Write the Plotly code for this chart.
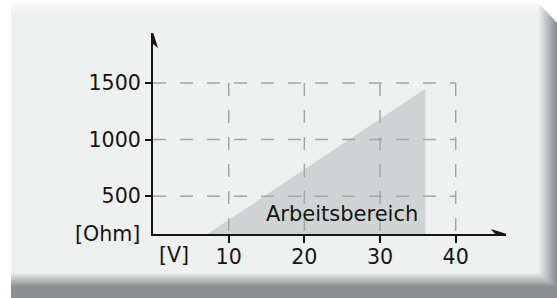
import plotly.graph_objects as go

# ---- data ----
x_ticks = [10, 20, 30, 40]
y_ticks = [500, 1000, 1500]
x_unit = "[V]"
y_unit = "[Ohm]"
area_v = [7.2, 36.0, 36.0]
area_ohm = [167, 1450, 167]
area_label = "Arbeitsbereich"

# ---- layout geometry ----
W, H = 557, 298
ML, MR, MT, MB = 153, 51, 33, 64
PW, PH = W - ML - MR, H - MT - MB
X_RANGE = [0, 46.65]
Y_RANGE = [167, 1941]

FONT = "DejaVu Sans"
FS = 20.6
INK = "#151515"
GRID = "#a3a6a8"
PANEL = (0xEF, 0xF0, 0xF0)
DARK = (0x8A, 0x8F, 0x92)
HILITE = (0xF8, 0xF8, 0xF8)


def px(x):
    return (x - ML) / PW


def py(y):
    return (H - MB - y) / PH


def lerp(a, b, t):
    return "rgb(%d,%d,%d)" % tuple(round(a[i] + (b[i] - a[i]) * t) for i in range(3))


def rect(x0, y0, x1, y1, color):
    return dict(type="rect", xref="paper", yref="paper",
                x0=px(x0), x1=px(x1), y0=py(y1), y1=py(y0),
                fillcolor=color, line=dict(width=0), layer="below")


shapes = []
N = 14
for k in range(N + 1):
    t = k / N
    shapes.append(rect(11, 22 - 19 * t, 557 - 18 * t, (298 if k == 0 else 287 - 14 * t),
                       lerp(DARK, PANEL, t)))
M = 6
for j in range(1, M + 1):
    t = j / M
    shapes.append(rect(11, 3, 539, 3 + 12 * (1 - t) + 1, lerp(PANEL, HILITE, t)))

# arrowheads (pixel-sized, anchored at axis ends)
shapes.append(dict(type="path", xref="x", yref="y", xsizemode="pixel", ysizemode="pixel",
                   xanchor=0, yanchor=Y_RANGE[1],
                   path="M0,1 L5,-15 L0,-11 L-5,-15 Z",
                   fillcolor=INK, line=dict(width=0), layer="above"))
shapes.append(dict(type="path", xref="x", yref="y", xsizemode="pixel", ysizemode="pixel",
                   xanchor=X_RANGE[1], yanchor=Y_RANGE[0],
                   path="M1,0 L-15,5 L-11,0 L-15,-5 Z",
                   fillcolor=INK, line=dict(width=0), layer="above"))

fig = go.Figure()

fig.add_trace(go.Scatter(x=area_v, y=area_ohm, fill="toself", mode="lines",
                         fillcolor="#d0d3d4", line=dict(width=0),
                         hoverinfo="skip", showlegend=False))

# dashed grid, limited to the tick extent
for xv in x_ticks:
    fig.add_trace(go.Scatter(x=[xv, xv], y=[max(y_ticks), Y_RANGE[0]], mode="lines",
                             line=dict(color=GRID, width=1.5, dash="13px,14px"),
                             hoverinfo="skip", showlegend=False))
for yv in y_ticks:
    fig.add_trace(go.Scatter(x=[X_RANGE[0], max(x_ticks)], y=[yv, yv], mode="lines",
                             line=dict(color=GRID, width=1.5, dash="13px,14px"),
                             hoverinfo="skip", showlegend=False))

fig.update_layout(
    width=W, height=H,
    margin=dict(l=ML, r=MR, t=MT, b=MB, pad=0),
    paper_bgcolor="white",
    plot_bgcolor="rgba(0,0,0,0)",
    font=dict(family=FONT, size=FS, color=INK),
    shapes=shapes,
    showlegend=False,
    xaxis=dict(range=X_RANGE, tickvals=x_ticks, showgrid=False, zeroline=False,
               showline=True, linewidth=2, linecolor=INK,
               ticks="outside", ticklen=7, tickwidth=2, tickcolor=INK,
               ticklabelstandoff=-4,
               tickfont=dict(family=FONT, size=FS, color=INK), fixedrange=True),
    yaxis=dict(range=Y_RANGE, tickvals=y_ticks, showgrid=False, zeroline=False,
               showline=True, linewidth=2, linecolor=INK,
               ticks="outside", ticklen=6, tickwidth=2, tickcolor=INK,
               tickfont=dict(family=FONT, size=FS, color=INK), fixedrange=True),
    annotations=[
        dict(text=area_label, x=25, y=340, xref="x", yref="y", showarrow=False,
             font=dict(family=FONT, size=21, color=INK)),
        dict(text=y_unit, x=0, y=Y_RANGE[0], xref="x", yref="y", showarrow=False,
             xanchor="right", yanchor="middle", xshift=-11,
             font=dict(family=FONT, size=FS, color=INK)),
        dict(text=x_unit, x=0, y=Y_RANGE[0], xref="x", yref="y", showarrow=False,
             xanchor="left", yanchor="middle", xshift=4, yshift=-21,
             font=dict(family=FONT, size=FS, color=INK)),
    ],
)

fig.write_html(
    "out.html",
    config={"displayModeBar": False, "staticPlot": True},
    post_script="document.body.style.margin='0';document.body.style.overflow='hidden';",
)
